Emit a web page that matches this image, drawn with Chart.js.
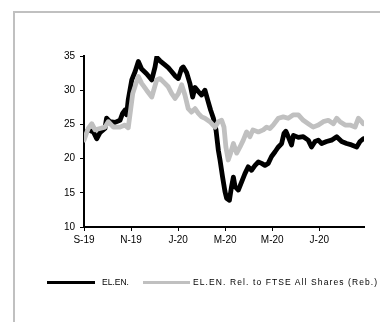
<!DOCTYPE html>
<html>
<head>
<meta charset="utf-8">
<script src="https://cdn.jsdelivr.net/npm/chart.js@4.4.1/dist/chart.umd.min.js"></script>
<style>
  html, body { margin: 0; padding: 0; background: #fff; overflow: hidden; }
  #frame { position: absolute; left: 13px; top: 11px; width: 420px; height: 420px;
           border-top: 2px solid #c0c0c0; border-left: 2px solid #c0c0c0; }
  #wrap { position: absolute; left: 0; top: 0; width: 380px; height: 322px; }
  #legend { position: absolute; left: 0; top: 0; width: 380px; height: 322px; pointer-events: none;
            font-family: "Liberation Sans", Arial, sans-serif; font-size: 8.5px; color: #000; }
  .sw { position: absolute; height: 3px; }
  .lt { position: absolute; white-space: nowrap; line-height: 10px; }
</style>
</head>
<body>
<div id="frame"></div>
<div id="wrap"><canvas id="c"></canvas></div>
<div id="legend"></div>
<script>
// x positions are months since the start of Sep 2019
const tickLabels = ['S-19', 'N-19', 'J-20', 'M-20', 'M-20', 'J-20'];
const seriesNames = ['EL.EN.', 'EL.EN. Rel. to FTSE All Shares (Reb.)'];
const seriesColors = ['#000000', '#c0c0c0'];

const elenMonths = [0, 0.18, 0.40, 0.54, 0.68, 0.89, 0.96, 1.10, 1.32, 1.53, 1.64, 1.74, 1.81, 1.88, 2.03, 2.17, 2.31, 2.45, 2.66, 2.88, 3.02, 3.09, 3.23, 3.44, 3.58, 3.73, 3.87, 4.01, 4.15, 4.22, 4.36, 4.50, 4.62, 4.72, 4.86, 5.00, 5.14, 5.28, 5.38, 5.50, 5.61, 5.71, 5.78, 5.89, 5.99, 6.06, 6.18, 6.27, 6.35, 6.42, 6.56, 6.70, 6.84, 6.98, 7.12, 7.27, 7.41, 7.55, 7.69, 7.83, 7.97, 8.12, 8.26, 8.40, 8.50, 8.58, 8.68, 8.82, 8.90, 9.11, 9.32, 9.53, 9.67, 9.82, 9.96, 10.10, 10.31, 10.52, 10.74, 10.95, 11.16, 11.37, 11.59, 11.73, 11.87];
const elenPrices = [23.4, 24.2, 23.9, 22.9, 23.8, 24.4, 25.9, 25.4, 25.3, 25.6, 26.6, 27.1, 26.4, 28.6, 31.5, 32.7, 34.2, 33.1, 32.4, 31.5, 33.4, 34.8, 34.3, 33.7, 33.3, 32.7, 32.1, 31.7, 33.2, 33.4, 32.6, 31.0, 29.0, 30.4, 29.8, 29.3, 30.0, 28.3, 27.1, 25.9, 24.2, 21.2, 19.8, 17.3, 15.2, 14.2, 13.9, 15.9, 17.3, 15.9, 15.4, 16.6, 17.8, 18.8, 18.3, 19.0, 19.5, 19.3, 19.0, 19.3, 20.3, 21.0, 21.7, 22.2, 23.7, 24.0, 23.2, 22.0, 23.4, 23.1, 23.2, 22.7, 21.7, 22.5, 22.7, 22.2, 22.5, 22.7, 23.2, 22.5, 22.2, 22.0, 21.7, 22.5, 22.9];

const relMonths = [0, 0.18, 0.33, 0.47, 0.68, 0.89, 1.03, 1.25, 1.53, 1.74, 1.88, 1.98, 2.07, 2.21, 2.31, 2.45, 2.66, 2.88, 3.09, 3.23, 3.44, 3.58, 3.73, 3.87, 4.01, 4.15, 4.29, 4.43, 4.57, 4.72, 4.86, 5.00, 5.14, 5.35, 5.57, 5.71, 5.85, 5.95, 6.03, 6.13, 6.23, 6.35, 6.49, 6.63, 6.77, 6.91, 7.05, 7.18, 7.41, 7.62, 7.76, 7.90, 8.04, 8.26, 8.47, 8.68, 8.90, 9.11, 9.32, 9.53, 9.74, 9.96, 10.17, 10.38, 10.60, 10.74, 10.88, 11.10, 11.31, 11.52, 11.66, 11.80, 11.87];
const relPrices = [22.7, 24.4, 25.1, 24.2, 24.4, 24.6, 25.4, 24.6, 24.6, 24.9, 24.5, 27.1, 29.5, 31.0, 32.0, 31.0, 30.0, 29.0, 31.5, 31.7, 31.0, 30.5, 29.5, 28.8, 29.5, 30.8, 29.3, 27.3, 26.8, 27.3, 26.6, 26.1, 25.9, 25.4, 24.6, 25.4, 25.6, 24.6, 21.7, 19.8, 20.8, 22.2, 20.8, 21.7, 22.7, 23.9, 23.2, 24.2, 23.9, 24.2, 24.6, 24.4, 24.9, 25.9, 26.1, 25.9, 26.4, 26.4, 25.6, 25.1, 24.6, 24.9, 25.4, 25.6, 25.1, 25.9, 25.4, 24.9, 24.9, 24.6, 25.9, 25.4, 25.1];

const toPoints = (xs, ys) => xs.map((x, i) => ({ x: x, y: ys[i] }));

const FONT = '"Liberation Sans", Arial, sans-serif';

new Chart(document.getElementById('c'), {
  type: 'line',
  data: {
    datasets: [
      { label: seriesNames[0], data: toPoints(elenMonths, elenPrices), borderColor: seriesColors[0],
        backgroundColor: seriesColors[0], borderWidth: 4.8, pointRadius: 0, tension: 0, order: 1,
        borderJoinStyle: 'round', borderCapStyle: 'round' },
      { label: seriesNames[1], data: toPoints(relMonths, relPrices), borderColor: seriesColors[1],
        backgroundColor: seriesColors[1], borderWidth: 4.8, pointRadius: 0, tension: 0, order: 0,
        borderJoinStyle: 'round', borderCapStyle: 'round' }
    ]
  },
  options: {
    responsive: true,
    maintainAspectRatio: false,
    animation: false,
    layout: { padding: { left: 60, right: 16, top: 56, bottom: 0 } },
    plugins: {
      tooltip: { enabled: false },
      legend: { display: false }
    },
    scales: {
      x: {
        type: 'linear', min: 0, max: 11.9,
        grid: { display: true, drawOnChartArea: false, drawTicks: true, tickLength: 4, color: '#000' },
        border: { display: true, color: '#000', width: 2 },
        ticks: { stepSize: 2, autoSkip: false, maxRotation: 0, padding: 3, color: '#000',
                 font: { family: FONT, size: 10 },
                 callback: (v) => tickLabels[Math.round(v / 2)] },
        afterFit: (s) => { s.height = 95; }
      },
      y: {
        min: 10, max: 35,
        grid: { display: true, drawOnChartArea: false, drawTicks: true, tickLength: 4, color: '#000' },
        border: { display: true, color: '#000', width: 2 },
        ticks: { stepSize: 5, padding: 5, color: '#000', font: { family: FONT, size: 10 } },
        afterFit: (s) => { s.width = 24; }
      }
    }
  }
});

// HTML legend
const legend = document.getElementById('legend');
const legendItems = [
  { sx: 47, sw: 48, tx: 102, ls: 0 },
  { sx: 143, sw: 47, tx: 193, ls: 1.1 }
];
legendItems.forEach((it, i) => {
  const sw = document.createElement('div');
  sw.className = 'sw';
  sw.style.left = it.sx + 'px'; sw.style.top = '281px'; sw.style.width = it.sw + 'px';
  sw.style.background = seriesColors[i];
  legend.appendChild(sw);
  const t = document.createElement('div');
  t.className = 'lt';
  t.style.left = it.tx + 'px'; t.style.top = '277px'; t.style.letterSpacing = it.ls + 'px';
  t.textContent = seriesNames[i];
  legend.appendChild(t);
});
</script>
</body>
</html>
